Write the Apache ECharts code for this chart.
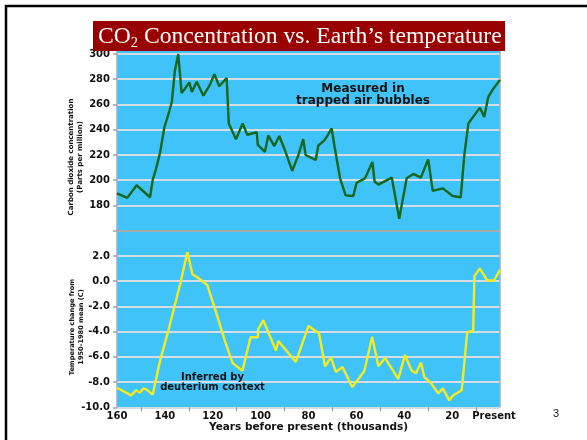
<!DOCTYPE html>
<html>
<head>
<meta charset="utf-8">
<script src="https://cdn.jsdelivr.net/npm/echarts@6/dist/echarts.min.js"></script>
<style>html,body{margin:0;padding:0;background:#fff;}#c{width:587px;height:440px;}</style>
</head>
<body>
<div id="c"></div>
<script>
// ---- data (thousands of years before present) ----
const co2Years = [160, 155.7, 151.8, 146.2, 145.1, 143.7, 142, 140.2, 138.1, 137.1, 135.8, 134.4, 133, 131.6, 129.8, 128.7, 126.7, 123.9, 121.1, 119.3, 117.3, 114.2, 113.3, 110.3, 107.5, 105.6, 101.6, 101.2, 98.2, 96.8, 94.3, 92.2, 89.8, 86.8, 84.2, 82.2, 81.2, 77, 75.9, 73.4, 72, 70.3, 69.2, 66.8, 64.5, 61.3, 59.9, 56.4, 53.3, 52.4, 50.8, 45.2, 42.1, 39, 36.2, 33.1, 30, 28.1, 23.9, 19.8, 16.4, 14.9, 13.2, 8.4, 6.6, 4.9, 2.8, 0];
const co2Ppm = [189.5, 186, 196, 186.5, 200, 209, 222, 242, 255, 262, 287, 300, 269, 272.5, 277.5, 270, 278, 267, 276, 284, 274.5, 281, 245, 232.5, 245, 236, 238, 228, 222.5, 235.5, 227, 235, 223.5, 207.5, 220, 232.5, 220, 216, 227.5, 231.5, 235.5, 241, 227.5, 201.5, 188, 187.5, 198, 201.5, 214.5, 199, 196.5, 202, 169.5, 201.5, 205, 202, 216.5, 191.5, 193.5, 187.5, 186.5, 220, 245, 257.5, 250, 266, 272.5, 279.5];
const tempYears = [160, 156.6, 154.1, 152, 150.4, 149, 147.6, 145.1, 142, 138.6, 133.7, 130.6, 128.5, 126, 122.3, 118.3, 114.9, 111.7, 107.6, 104.2, 101.2, 101, 98.9, 93.6, 92.6, 85.3, 80, 75.6, 73.1, 70.6, 68.6, 65.8, 61.7, 56.7, 53.4, 50.8, 48, 42.5, 39.7, 36.9, 35.1, 33, 31.6, 29.2, 25.8, 23.9, 21.2, 19.5, 16, 13.7, 11.2, 10.7, 8.4, 5.3, 2.5, 0];
const tempChange = [-8.45, -8.8, -9.05, -8.65, -8.85, -8.5, -8.6, -9.0, -6.3, -3.95, -0.3, 2.3, 0.55, 0.25, -0.3, -2.65, -4.75, -6.5, -7.1, -4.45, -4.45, -3.8, -3.1, -5.5, -4.75, -6.4, -3.55, -4.15, -6.75, -6.05, -7.2, -6.8, -8.4, -7.15, -4.4, -6.75, -6.1, -7.75, -5.85, -7.1, -7.3, -6.45, -7.6, -8.0, -8.9, -8.5, -9.45, -9.05, -8.65, -4.05, -3.95, 0.4, 1.0, 0.05, 0.05, 0.9];
const presentLabel = 'Present';
const titleText = ['CO', '2', ' Concentration vs. Earth\u2019s temperature'];
const co2AxisName = 'Carbon dioxide concentration\n(Parts per million)';
const tempAxisName = 'Temperature change from\n1950-1980 mean (C)';
const xAxisName = 'Years before present (thousands)';
const noteCo2 = 'Measured in\ntrapped air bubbles';
const noteTemp = 'Inferred by\ndeuterium context';
const pageNumber = '3';

// ---- styles ----
const BLUE = '#3fc3f9';
const GRID = '#d3dde3';
const SEP = '#a4acb2';
const LBL = {fontFamily: 'DejaVu Sans', fontWeight: 'bold', fontSize: 10, color: '#111'};

const co2Data = co2Years.map((x, i) => [x, co2Ppm[i]]);
const tempData = tempYears.map((x, i) => [x, tempChange[i]]);

const chart = echarts.init(document.getElementById('c'), null, {renderer: 'canvas'});
chart.setOption({
  animation: false,
  backgroundColor: '#fff',
  grid: [
    {left: 117, top: 54, width: 383, height: 176.7, show: true, backgroundColor: BLUE, borderWidth: 0},
    {left: 117, top: 230.7, width: 383, height: 176.6, show: true, backgroundColor: BLUE, borderWidth: 0}
  ],
  xAxis: [
    {gridIndex: 0, type: 'value', min: 0, max: 160, interval: 20, inverse: true,
     axisLabel: {show: false}, axisTick: {show: false}, splitLine: {show: false},
     axisLine: {show: false, onZero: false}},
    {gridIndex: 1, type: 'value', min: 0, max: 160, interval: 20, inverse: true,
     axisLabel: Object.assign({margin: 4, formatter: v => v === 0 ? '{p|' + presentLabel + '}' : String(v),
       rich: {p: Object.assign({}, LBL, {padding: [0, 12, 0, 0]})}}, LBL),
     axisTick: {show: false},
     minorTick: {show: true, splitNumber: 2, length: 4, lineStyle: {color: '#8a9096', width: 1}},
     splitLine: {show: false},
     axisLine: {show: false, onZero: false},
     name: xAxisName, nameLocation: 'middle', nameGap: 12,
     nameTextStyle: {fontFamily: 'DejaVu Sans', fontWeight: 'bold', fontSize: 10.5, color: '#111'}}
  ],
  yAxis: [
    {gridIndex: 0, type: 'value', min: 160, max: 300, interval: 20,
     axisLabel: Object.assign({margin: 7, formatter: v => v === 160 ? '' : String(v)}, LBL),
     axisTick: {show: true, length: 4, lineStyle: {color: '#9aa2a8', width: 1.5}},
     axisLine: {show: true, onZero: false, lineStyle: {color: '#a8adb2', width: 1.5}},
     splitLine: {show: true, lineStyle: {color: [SEP, GRID, GRID, GRID, GRID, GRID, GRID, GRID], width: 2}}},
    {gridIndex: 1, type: 'value', min: -10, max: 4, interval: 2,
     axisLabel: Object.assign({margin: 7, formatter: v => v === 4 ? '' : v.toFixed(1)}, LBL),
     axisTick: {show: true, length: 4, lineStyle: {color: '#9aa2a8', width: 1.5}},
     axisLine: {show: true, onZero: false, lineStyle: {color: '#a8adb2', width: 1.5}},
     splitLine: {show: true, lineStyle: {color: [GRID, GRID, GRID, GRID, GRID, GRID, GRID, SEP], width: 2}}}
  ],
  series: [
    {type: 'line', xAxisIndex: 0, yAxisIndex: 0, data: co2Data, showSymbol: false, symbol: 'none',
     lineStyle: {color: '#16661b', width: 2.4}, clip: false, z: 5},
    {type: 'line', xAxisIndex: 1, yAxisIndex: 1, data: tempData, showSymbol: false, symbol: 'none',
     lineStyle: {color: '#f4ec1e', width: 2.4}, z: 5}
  ],
  graphic: [
    {type: 'rect', shape: {x: 6, y: 6, width: 800, height: 800}, style: {fill: 'none', stroke: '#000', lineWidth: 2.5}, z: 1},
    {type: 'rect', shape: {x: 117, y: 46, width: 383, height: 9}, style: {fill: BLUE}, z: -1},
    {type: 'line', shape: {x1: 500, y1: 46, x2: 500, y2: 407.3}, style: {stroke: '#a8adb2', lineWidth: 1.5}, z: 3},
    {type: 'line', shape: {x1: 117, y1: 46, x2: 117, y2: 54}, style: {stroke: '#a8adb2', lineWidth: 1.5}, z: 3},
    {type: 'rect', shape: {x: 93, y: 21, width: 412, height: 30}, style: {fill: '#990000'}, z: 100},
    {type: 'text', x: 98, y: 37, z: 101,
     style: {text: '{a|' + titleText[0] + '}{b|' + titleText[1] + '}{a|' + titleText[2] + '}',
       verticalAlign: 'middle', align: 'left',
       rich: {a: {fontFamily: 'Liberation Serif', fontSize: 23.6, lineHeight: 28, fill: '#fff', color: '#fff'},
              b: {fontFamily: 'Liberation Serif', fontSize: 14.5, lineHeight: 14, verticalAlign: 'bottom', fill: '#fff', color: '#fff'}}}},
    {type: 'text', x: 76, y: 157, rotation: Math.PI / 2, z: 10,
     style: {text: co2AxisName, align: 'center', verticalAlign: 'middle', font: 'bold 7px "DejaVu Sans"', lineHeight: 9, fill: '#111'}},
    {type: 'text', x: 77, y: 327, rotation: Math.PI / 2, z: 10,
     style: {text: tempAxisName, align: 'center', verticalAlign: 'middle', font: 'bold 6.6px "DejaVu Sans"', lineHeight: 9, fill: '#111'}},
    {type: 'text', x: 363, y: 95, z: 10,
     style: {text: noteCo2, align: 'center', verticalAlign: 'middle', font: 'bold 12px "DejaVu Sans"', lineHeight: 11.5, fill: '#111'}},
    {type: 'text', x: 212.5, y: 382.5, z: 10,
     style: {text: noteTemp, align: 'center', verticalAlign: 'middle', font: 'bold 10px "DejaVu Sans"', lineHeight: 9.5, fill: '#111'}},
    {type: 'text', x: 556, y: 414, z: 10,
     style: {text: pageNumber, align: 'center', verticalAlign: 'middle', font: '11px "Liberation Sans"', fill: '#222'}}
  ]
});
</script>
</body>
</html>
